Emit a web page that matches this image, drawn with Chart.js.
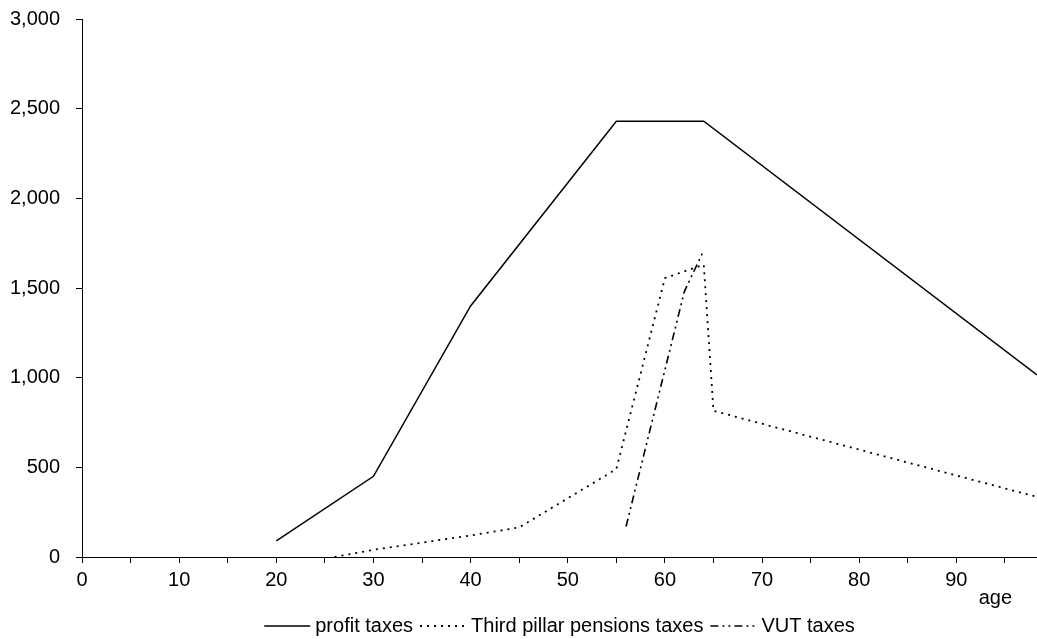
<!DOCTYPE html>
<html>
<head>
<meta charset="utf-8">
<script src="https://cdn.jsdelivr.net/npm/chart.js@4/dist/chart.umd.min.js"></script>
<style>
  body { margin: 0; background: #fff; }
  #wrap { width: 1037px; height: 639px; }
</style>
</head>
<body>
<div id="wrap"><canvas id="taxChart"></canvas></div>
<script>
// tax revenues by age
const profitAge = [20, 30, 40, 55, 64, 98.3];
const profitTaxes = [90, 450, 1400, 2430, 2430, 1015];

const pillarAge = [26, 30, 40, 45, 55, 60, 64, 65, 98.3];
const pillarTaxes = [0, 40, 120, 165, 490, 1555, 1630, 815, 335];

const vutAge = [56, 62, 64];
const vutTaxes = [170, 1480, 1710];

const yTicks = [0, 500, 1000, 1500, 2000, 2500, 3000];

function toPoints(xs, ys) {
  return xs.map((x, i) => ({ x: x, y: ys[i] }));
}

const font = "Arial, 'Liberation Sans', sans-serif";

// "age" under the x axis plus a one-row legend with dashed samples
const extras = {
  id: "extras",
  afterDraw(chart) {
    const ctx = chart.ctx;
    const area = chart.chartArea;
    ctx.save();
    ctx.fillStyle = "#000";
    ctx.strokeStyle = "#000";
    ctx.font = "20px " + font;
    ctx.textBaseline = "middle";

    ctx.textAlign = "right";
    ctx.fillText("age", area.right - 25, 598);

    ctx.textAlign = "left";
    const sample = 46, gap = 5, spacing = 7, y = 626;
    const items = chart.data.datasets.map((ds) => ({
      text: ds.label,
      dash: ds.borderDash,
      lw: ds.borderWidth,
      width: ctx.measureText(ds.label).width,
    }));
    const total = items.reduce((s, it) => s + sample + gap + it.width, 0) + spacing * (items.length - 1);
    let x = (area.left + area.right) / 2 - total / 2;
    items.forEach((it) => {
      ctx.beginPath();
      ctx.setLineDash(it.dash);
      ctx.lineWidth = it.lw;
      ctx.moveTo(x, y);
      ctx.lineTo(x + sample, y);
      ctx.stroke();
      ctx.setLineDash([]);
      x += sample + gap;
      ctx.fillText(it.text, x, y);
      x += it.width + spacing;
    });
    ctx.restore();
  },
};

const line = (label, data, dash, width) => ({
  label: label,
  data: data,
  borderColor: "#000",
  backgroundColor: "#000",
  borderWidth: width,
  borderDash: dash,
  pointRadius: 0,
  tension: 0,
  fill: false,
});

new Chart(document.getElementById("taxChart"), {
  type: "line",
  data: {
    datasets: [
      line("profit taxes", toPoints(profitAge, profitTaxes), [], 1.5),
      line("Third pillar pensions taxes", toPoints(pillarAge, pillarTaxes), [2, 5], 1.8),
      line("VUT taxes", toPoints(vutAge, vutTaxes), [8, 4, 2, 4, 2, 4], 1.6),
    ],
  },
  options: {
    responsive: true,
    maintainAspectRatio: false,
    animation: false,
    layout: { padding: { top: 19, right: 0, left: 0, bottom: 0 } },
    plugins: {
      tooltip: { enabled: false },
      legend: { display: false },
    },
    scales: {
      x: {
        type: "linear",
        min: 0,
        max: 98.3,
        afterFit: (scale) => {
          scale.height = 82;
          scale.paddingLeft = 0;
          scale.paddingRight = 0;
        },
        border: { display: true, color: "#000", width: 1 },
        grid: { drawOnChartArea: false, drawTicks: true, tickLength: 6, color: "#000" },
        ticks: {
          stepSize: 5,
          includeBounds: false,
          autoSkip: false,
          maxRotation: 0,
          padding: 5,
          color: "#000",
          font: { family: font, size: 20 },
          callback: (v) => (v % 10 === 0 ? String(v) : ""),
        },
      },
      y: {
        min: yTicks[0],
        max: yTicks[yTicks.length - 1],
        afterFit: (scale) => {
          scale.width = 82;
          scale.paddingTop = 0;
          scale.paddingBottom = 0;
        },
        border: { display: true, color: "#000", width: 1 },
        grid: { drawOnChartArea: false, drawTicks: true, tickLength: 6, color: "#000" },
        ticks: {
          stepSize: 500,
          padding: 16,
          color: "#000",
          font: { family: font, size: 20 },
          callback: (v) => v.toLocaleString("en-US"),
        },
      },
    },
  },
  plugins: [extras],
});
</script>
</body>
</html>
